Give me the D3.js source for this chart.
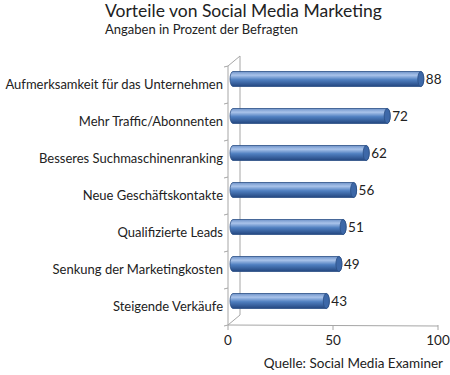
<!DOCTYPE html>
<html>
<head>
<meta charset="utf-8">
<script src="https://cdn.jsdelivr.net/npm/d3@7"></script>
<style>
  body { margin: 0; background: #fff; }
  text { font-family: Lato, "Open Sans", sans-serif; fill: #222; }
</style>
</head>
<body>
<svg width="450" height="375"></svg>
<script>
// data
var categories = ["Aufmerksamkeit für das Unternehmen", "Mehr Traffic/Abonnenten",
    "Besseres Suchmaschinenranking", "Neue Geschäftskontakte", "Qualifizierte Leads",
    "Senkung der Marketingkosten", "Steigende Verkäufe"];
var values = [88, 72, 62, 56, 51, 49, 43];
var xTicks = [0, 50, 100];

var svg = d3.select("svg");

// depth of the fake 3d box
var dx = 12, dy = -10;

var x = d3.scaleLinear().domain([0, 100]).range([228, 438]);
var y = d3.scaleBand().domain(categories).range([66, 325]);

// gradient for the cylinders
var defs = svg.append("defs");
var grad = defs.append("linearGradient")
    .attr("id", "cyl").attr("x1", 0).attr("y1", 0).attr("x2", 0).attr("y2", 1);
grad.append("stop").attr("offset", "0%").attr("stop-color", "#6f93c9");
grad.append("stop").attr("offset", "25%").attr("stop-color", "#a9c3ea");
grad.append("stop").attr("offset", "55%").attr("stop-color", "#4f7fc0");
grad.append("stop").attr("offset", "100%").attr("stop-color", "#23467f");

var gcolor = "#a6a6a6";

// walls
svg.append("path")
    .attr("d", "M" + x(0) + "," + y.range()[0] + "L" + (x(0) + dx) + "," + (y.range()[0] + dy)
        + "L" + (x(0) + dx) + "," + (y.range()[1] + dy) + "L" + x(0) + "," + y.range()[1])
    .attr("fill", "none").attr("stroke", gcolor);
svg.append("line")
    .attr("x1", x(0)).attr("x2", x(0)).attr("y1", y.range()[0]).attr("y2", y.range()[1])
    .attr("stroke", gcolor);

// y tick marks between categories
svg.selectAll(".yt").data(d3.range(categories.length + 1)).enter().append("line")
    .attr("x1", x(0) - 4).attr("x2", x(0))
    .attr("y1", function (i) { return y.range()[0] + i * y.step() + 1; })
    .attr("y2", function (i) { return y.range()[0] + i * y.step(); })
    .attr("stroke", gcolor);

// x axis
svg.append("line")
    .attr("x1", x(0)).attr("x2", x(100)).attr("y1", y.range()[1]).attr("y2", y.range()[1] + 1)
    .attr("stroke", gcolor);
svg.selectAll(".xt").data(xTicks).enter().append("line")
    .attr("x1", function (d) { return x(d); }).attr("x2", function (d) { return x(d); })
    .attr("y1", y.range()[1]).attr("y2", y.range()[1] + 5)
    .attr("stroke", gcolor);
svg.selectAll(".xl").data(xTicks).enter().append("text")
    .attr("x", function (d) { return x(d); }).attr("y", 345)
    .attr("text-anchor", "middle").style("font-size", "13.5px")
    .text(function (d) { return d; });

// bars
var bh = 15, bx = 3, shift = 8;
var bars = svg.selectAll(".bar").data(values).enter().append("g");
bars.append("path")
    .attr("d", function (d, i) {
        var cy = y(categories[i]) + y.bandwidth() / 2 - 5.5;
        var x0 = x(0) + bx, x1 = x(d) + shift, r = bh / 2;
        return "M" + (x0 + 2) + "," + (cy - r) + "L" + x1 + "," + (cy - r)
            + "A3," + r + " 0 0 1 " + x1 + "," + (cy + r)
            + "L" + (x0 + 2) + "," + (cy + r)
            + "A3," + r + " 0 0 1 " + (x0 + 2) + "," + (cy - r) + "Z";
    })
    .attr("fill", "url(#cyl)").attr("stroke", "#2b4f85").attr("stroke-width", 0.8);
bars.append("ellipse")
    .attr("cx", function (d) { return x(d) + shift; })
    .attr("cy", function (d, i) { return y(categories[i]) + y.bandwidth() / 2 - 5.5; })
    .attr("rx", 3).attr("ry", bh / 2)
    .attr("fill", "#3d68a8").attr("stroke", "#2b4f85").attr("stroke-width", 0.8);
bars.append("text")
    .attr("x", function (d) { return x(d) + shift + 5; })
    .attr("y", function (d, i) { return y(categories[i]) + y.bandwidth() / 2 - 1; })
    .style("font-size", "13.5px")
    .text(function (d) { return d; });

// category labels
svg.selectAll(".cl").data(categories).enter().append("text")
    .attr("x", 223).attr("y", function (d) { return y(d) + y.bandwidth() / 2 + 4; })
    .attr("text-anchor", "end").style("font-size", "13px")
    .text(function (d) { return d; });

// titles
svg.append("text").attr("x", 105).attr("y", 17).style("font-size", "17.5px")
    .text("Vorteile von Social Media Marketing");
svg.append("text").attr("x", 105).attr("y", 34).style("font-size", "13px")
    .text("Angaben in Prozent der Befragten");
svg.append("text").attr("x", 443).attr("y", 368).attr("text-anchor", "end").style("font-size", "13.5px")
    .text("Quelle: Social Media Examiner");
</script>
</body>
</html>
